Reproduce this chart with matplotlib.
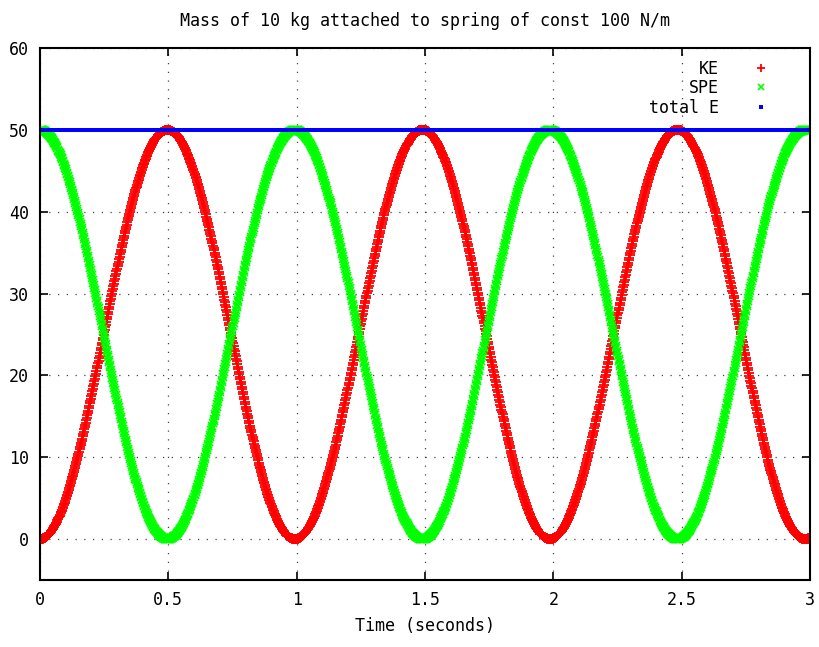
import numpy as np
import matplotlib
matplotlib.use("Agg")
import matplotlib.pyplot as plt

mass = 10.0          # kg
spring_k = 100.0     # N/m
total_energy = 50.0  # J (level of the blue line)
dt = 0.002           # sampling step of the simulation
t_end = 3.0

x_ticks = [0, 0.5, 1, 1.5, 2, 2.5, 3]
x_tick_labels = ["0", "0.5", "1", "1.5", "2", "2.5", "3"]
y_ticks = [0, 10, 20, 30, 40, 50, 60]
y_tick_labels = ["0", "10", "20", "30", "40", "50", "60"]

# Mass-spring motion started at full extension
omega = np.sqrt(spring_k / mass)
t = np.arange(0, t_end + dt / 2, dt)
spe = total_energy * np.cos(omega * t) ** 2
ke = total_energy * np.sin(omega * t) ** 2
tot = ke + spe

plt.rcParams['font.family'] = ['DejaVu Sans Mono']

fig = plt.figure(figsize=(8.2, 6.47), dpi=100)
ax = fig.add_axes([40 / 820, 67 / 647, 770 / 820, 532 / 647])

ax.plot(t, ke, linestyle='none', marker='+', color='#ff0000', markersize=6.5,
        markeredgewidth=1.3, label='KE')
ax.plot(t, spe, linestyle='none', marker='x', color='#00ff00', markersize=5.5,
        markeredgewidth=1.2, label='SPE')
ax.plot(t, tot, linestyle='none', marker='s', color='#0000ff', markersize=2.4,
        markeredgewidth=0, label='total E')

ax.set_xlim(0, 3)
ax.set_ylim(-5, 60)
ax.set_xticks(x_ticks)
ax.set_xticklabels(x_tick_labels)
ax.set_yticks(y_ticks)
ax.set_yticklabels(y_tick_labels)
ax.tick_params(direction='in', length=6, width=1.2, top=True, right=True,
               labelsize=12, pad=8)
for s in ax.spines.values():
    s.set_linewidth(1.5)

ax.grid(True, linestyle=(0, (1, 6)), color='#444444', linewidth=0.9)

ax.set_title("Mass of 10 kg attached to spring of const 100 N/m", fontsize=12, pad=16)
ax.set_xlabel("Time (seconds)", fontsize=12, labelpad=6)

leg = ax.legend(loc='upper right', bbox_to_anchor=(0.968, 1.0), frameon=False,
                fontsize=12, markerfirst=False, handlelength=1.5,
                handletextpad=1.8, borderaxespad=0.3, labelspacing=0.1)
handles = leg.legend_handles
handles[0].set_markersize(6)
handles[1].set_markersize(5)
handles[2].set_markersize(3)

fig.savefig("out.png", dpi=100)
